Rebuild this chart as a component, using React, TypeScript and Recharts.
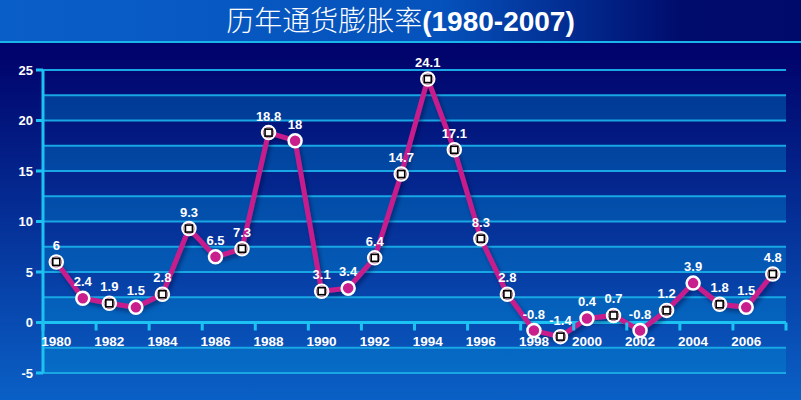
import { LineChart, Line, XAxis, YAxis, CartesianGrid, ReferenceLine, ReferenceDot, LabelList } from 'recharts'

const years = [
  1980, 1981, 1982, 1983, 1984, 1985, 1986, 1987, 1988, 1989, 1990, 1991, 1992, 1993,
  1994, 1995, 1996, 1997, 1998, 1999, 2000, 2001, 2002, 2003, 2004, 2005, 2006, 2007
]
const inflation = [
  6, 2.4, 1.9, 1.5, 2.8, 9.3, 6.5, 7.3, 18.8, 18, 3.1, 3.4, 6.4, 14.7,
  24.1, 17.1, 8.3, 2.8, -0.8, -1.4, 0.4, 0.7, -0.8, 1.2, 3.9, 1.8, 1.5, 4.8
]
const yearLabels = [1980, 1982, 1984, 1986, 1988, 1990, 1992, 1994, 1996, 1998, 2000, 2002, 2004, 2006]
const yTicks = [-5, -2.5, 0, 2.5, 5, 7.5, 10, 12.5, 15, 17.5, 20, 22.5, 25]
// years drawn with a plain magenta dot instead of the boxed marker
const filledMarkerYears = [1981, 1983, 1986, 1989, 1991, 1998, 2000, 2002, 2004, 2006]

const data = years.map((year, i) => ({ year, value: inflation[i] }))
// tick marks sit between the year pairs
const xTickMarks = [...yearLabels.map(y => y - 0.5), 2007.5]

const AXIS = '#1cc2f2'
const GRID = '#18a6e4'
const LINE = '#c81f8d'
const FONT = '"Liberation Sans", Arial, sans-serif'

const YTick = (props: any) => {
  const { x, y, payload } = props
  if (payload.value % 5 !== 0) return <g />
  return (
    <g>
      <line x1={x - 7} y1={y} x2={x} y2={y} stroke={AXIS} strokeWidth={3} />
      <text x={x - 10} y={y + 4.5} textAnchor="end" fill="#fff" fontSize={13} fontWeight="bold" fontFamily={FONT}>
        {payload.value}
      </text>
    </g>
  )
}

const Marker = (props: any) => {
  const { cx, cy, payload, index } = props
  if (cx == null || cy == null) return <g key={`m-${index}`} />
  if (filledMarkerYears.includes(payload.year)) {
    return <circle key={`m-${index}`} cx={cx} cy={cy} r={6.5} fill={LINE} stroke="#fff" strokeWidth={2.5} />
  }
  return (
    <g key={`m-${index}`}>
      <circle cx={cx} cy={cy} r={6.5} fill="#fff" stroke="#fff" strokeWidth={2.5} />
      <circle cx={cx} cy={cy} r={5.2} fill="none" stroke="#7a1048" strokeWidth={0.6} />
      <rect x={cx - 3.5} y={cy - 3.5} width={7} height={7} fill="#fff" stroke="#000" strokeWidth={1.6} />
    </g>
  )
}

const PointLabel = (props: any) => {
  const { x, y, value } = props
  return (
    <text x={x} y={y - 12} textAnchor="middle" fill="#fff" fontSize={13} fontWeight="bold" fontFamily={FONT}>
      {value}
    </text>
  )
}

export default function App() {
  return (
    <div
      style={{
        position: 'absolute',
        left: 0,
        top: 0,
        width: 801,
        height: 400,
        overflow: 'hidden',
        background: 'linear-gradient(180deg, #00006a 0%, #00046c 14%, #0a60c6 100%)'
      }}
    >
      <div
        style={{
          position: 'absolute',
          left: 0,
          top: 0,
          width: 801,
          height: 41,
          background: 'linear-gradient(90deg, #0a5ec8 0%, #0552bc 55%, #000c6c 85%, #000a6a 100%)',
          color: '#fff',
          textAlign: 'center',
          lineHeight: '38px',
          whiteSpace: 'nowrap'
        }}
      >
        <span style={{ fontFamily: '"Noto Sans CJK SC", sans-serif', fontSize: 28, fontWeight: 300 }}>历年通货膨胀率</span>
        <span style={{ fontFamily: FONT, fontSize: 28, fontWeight: 'bold' }}>(1980-2007)</span>
      </div>
      <div style={{ position: 'absolute', left: 0, top: 41, width: 801, height: 2, background: '#1ab4ec' }} />

      <svg width={0} height={0} style={{ position: 'absolute' }}>
        <defs>
          <filter id="lineShadow" x="-10%" y="-10%" width="120%" height="130%">
            <feDropShadow dx={2} dy={3} stdDeviation={2} floodColor="#000030" floodOpacity={0.45} />
          </filter>
        </defs>
      </svg>

      <LineChart
        width={801}
        height={400}
        data={data}
        margin={{ top: 70, right: 15, bottom: 27, left: 0 }}
        style={{ position: 'absolute', left: 0, top: 0 }}
      >
        <CartesianGrid
          vertical={false}
          stroke={GRID}
          strokeWidth={2}
          strokeOpacity={1}
          fillOpacity={1}
          horizontalFill={['rgba(0,0,0,0)', 'rgba(0,150,215,0.33)']}
        />
        <XAxis dataKey="year" type="number" domain={[1979.5, 2007.5]} hide />
        <YAxis
          width={43}
          domain={[-5, 25]}
          ticks={yTicks}
          interval={0}
          tickLine={false}
          tickSize={0}
          tickMargin={0}
          axisLine={{ stroke: AXIS, strokeWidth: 3 }}
          tick={YTick}
        />
        <ReferenceLine y={0} stroke={AXIS} strokeWidth={3} />
        {xTickMarks.map(v => (
          <ReferenceDot
            key={`t-${v}`}
            x={v}
            y={0}
            ifOverflow="visible"
            shape={(p: any) => <line x1={p.cx} y1={p.cy} x2={p.cx} y2={p.cy + 8} stroke={AXIS} strokeWidth={3} />}
          />
        ))}
        {yearLabels.map(v => (
          <ReferenceDot
            key={`l-${v}`}
            x={v}
            y={0}
            ifOverflow="visible"
            shape={(p: any) => (
              <text x={p.cx} y={p.cy + 23} textAnchor="middle" fill="#fff" fontSize={13.5} fontWeight="bold" fontFamily={FONT}>
                {v}
              </text>
            )}
          />
        ))}
        <Line
          type="linear"
          dataKey="value"
          stroke={LINE}
          strokeWidth={5}
          dot={Marker}
          activeDot={false}
          style={{ filter: 'url(#lineShadow)' }}
          isAnimationActive={false}
        >
          <LabelList dataKey="value" content={PointLabel} />
        </Line>
      </LineChart>
    </div>
  )
}
